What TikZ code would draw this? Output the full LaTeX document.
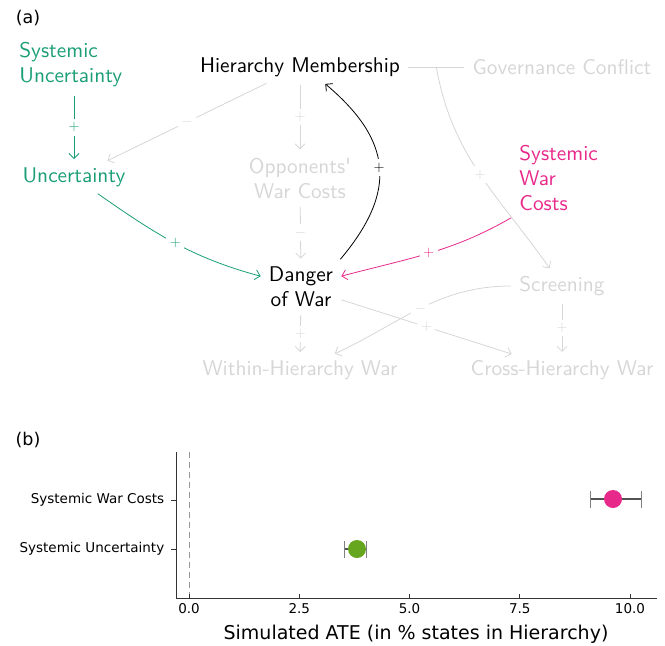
\documentclass[tikz,border=0pt]{standalone}
\usepackage{fontspec}
\newfontfamily\plotfont{DejaVu Sans}
\newfontfamily\diagfont{lmsans10-regular}[Extension=.otf]
\usetikzlibrary{graphs, arrows.meta}
\definecolor{sysgreen}{HTML}{1B9E77}
\definecolor{syspink}{HTML}{E7298A}
\definecolor{ghost}{HTML}{D6D6D6}
\definecolor{dotgreen}{HTML}{66A61E}
\definecolor{axisgray}{HTML}{333333}
\tikzset{
  graphs/plus sign/.style={edge node={node[sign]{$+$}}},
  graphs/minus sign/.style={edge node={node[sign]{$-$}}},
}

\begin{document}
\begin{tikzpicture}[
    x=1pt, y=-1pt,
    var/.style={font=\fontsize{21.3}{25}\diagfont, align=center, inner sep=5pt},
    faint/.style={var, text=ghost},
    sign/.style={font=\fontsize{14}{14}\selectfont, fill=white, inner sep=3.5pt},
    >={Straight Barb[length=5pt, width=10pt]},
    shorten >=3pt,
    shorten <=3pt,
    line width=0.8pt,
  ]
  \useasboundingbox (0,0) rectangle (665,646);

  % (a) causal diagram
  \node[font=\fontsize{17.5}{18}\plotfont] (taga) at (28,18) {(a)};
  \node[var, text=sysgreen, align=left, anchor=west] (sysunc) at (14,65) {Systemic\\Uncertainty};
  \node[var, text=sysgreen] (unc) at (74,177) {Uncertainty};
  \node[var] (hm) at (300,67) {Hierarchy Membership};
  \node[faint] (gc) at (562,67) {Governance Conflict};
  \node[faint] (owc) at (300,178) {Opponents'\\War Costs};
  \node[var, text=syspink, align=left, anchor=west] (swc) at (514,178) {Systemic\\War\\Costs};
  \node[var] (dow) at (301,287) {Danger\\of War};
  \node[faint] (scr) at (562,286) {Screening};
  \node[faint] (whw) at (300,370) {Within-Hierarchy War};
  \node[faint] (chw) at (562,370) {Cross-Hierarchy War};

  \graph [use existing nodes] {
    hm ->[ghost, minus sign] unc;
    hm ->[ghost, plus sign] owc ->[ghost, minus sign] dow;
    unc ->[sysgreen, plus sign, out=-35, in=165] dow;
    hm --[ghost, edge node={coordinate[midway] (gcjoin)}] gc;
    scr ->[ghost, minus sign, out=180, in=25] whw;
    dow ->[ghost, plus sign] chw;
    dow ->[ghost, plus sign] whw;
    scr ->[ghost, plus sign] chw;
  };
  \draw[->, sysgreen] (sysunc.south -| unc) -- node[sign]{$+$} (unc);
  \draw[->] (dow.north east) to[bend right=45, looseness=1.3] node[sign]{$+$} ([xshift=23pt]hm.south);
  \draw[->, syspink] (swc.south west) to[out=-150, in=15] node[sign]{$+$} (dow);
  \draw[->, ghost, shorten <=0pt] (gcjoin) to[out=-80, in=125] node[sign]{$+$} (scr);

  % (b) simulated effects
  \begin{scope}[shorten >=0pt, shorten <=0pt, font=\fontsize{13.5}{14}\plotfont]
    \node[font=\fontsize{17.5}{18}\plotfont] (tagb) at (28,440) {(b)};
    \draw[gray!80, dash pattern=on 6pt off 4pt] (189,452) -- (189,598);
    \draw[axisgray, line width=1pt] (176,452) -- (176,598) -- (657,598);
    \foreach \v/\lbl in {0/0.0, 2.5/2.5, 5/5.0, 7.5/7.5, 10/10.0} {
      \draw[axisgray] ({189+44.1*\v},598) -- ++(0,-4);
      \node[anchor=north] (tick\lbl) at ({189+44.1*\v},600) {\lbl};
    }
    \foreach \yy/\lbl/\nm in {500/Systemic War Costs/warrow, 549/Systemic Uncertainty/uncrow} {
      \draw[axisgray] (176,\yy) -- (171,\yy);
      \node[anchor=east] (\nm) at (168,\yy) {\lbl};
    }
    % error bars
    \draw[axisgray!85, line width=1.6pt] (590,499) -- (641,499);
    \draw[gray, line width=1pt] (590,491) -- (590,508) (641,491) -- (641,508);
    \node[circle, fill=syspink, minimum size=18pt, inner sep=0pt] (wardot) at (613,499) {};
    \draw[axisgray!85, line width=1.6pt] (344,549) -- (366,549);
    \draw[gray, line width=1pt] (344,541) -- (344,558) (366,541) -- (366,558);
    \node[circle, fill=dotgreen, minimum size=18pt, inner sep=0pt] (uncdot) at (357,549) {};
    \node[font=\fontsize{19}{20}\plotfont] (xlabel) at (416,634) {Simulated ATE (in \% states in Hierarchy)};
  \end{scope}
\end{tikzpicture}
\end{document}
